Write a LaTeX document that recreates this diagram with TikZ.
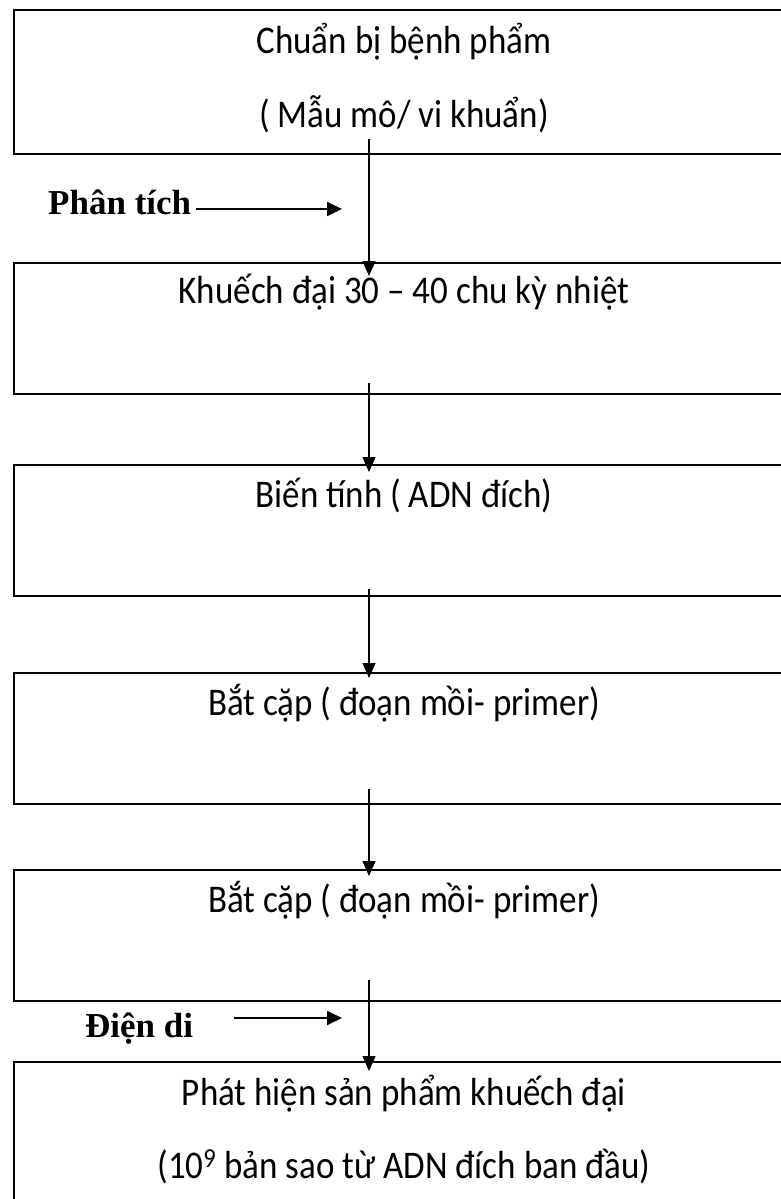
\documentclass[tikz,border=0pt]{standalone}
\usepackage{fontspec}
\usepackage{graphicx}
\setmainfont{Carlito}
\newfontfamily\lblfont{Liberation Serif}
\newcommand{\tallt}[1]{\scalebox{1}[1.12]{#1}}
\usetikzlibrary{arrows.meta,calc}
\tikzset{
  box/.style={draw=black,line width=1.6pt,rectangle,anchor=north west,minimum width=800pt,inner sep=0pt},
  txt/.style={anchor=base,inner sep=0pt,font=\fontsize{35}{42}\selectfont},
  lbl/.style={anchor=base west,inner sep=0pt,font=\fontsize{35}{42}\selectfont\lblfont\bfseries},
  vline/.style={line width=1.2pt,-{Triangle[length=15pt,width=13pt]}},
  hline/.style={line width=1.8pt,-{Triangle[length=15pt,width=14pt]}}
}
\begin{document}
\begin{tikzpicture}[x=1pt,y=-1pt]
\useasboundingbox (0,0) rectangle (781,1199);
\clip (0,0) rectangle (781,1199);
\fill[white] (0,0) rectangle (781,1199);
% boxes
\node[box,minimum height=144pt] (b1) at (13,9) {};
\node[box,minimum height=131pt] (b2) at (13,262) {};
\node[box,minimum height=131pt] (b3) at (13,464) {};
\node[box,minimum height=131pt] (b4) at (13,672) {};
\node[box,minimum height=131pt] (b5) at (13,869) {};
\node[box,minimum height=160pt] (b6) at (13,1061) {};
% texts
\node[txt] (t1a) at (404,53) {\tallt{Chuẩn bị bệnh phẩm}};
\node[txt] (t1b) at (404,127) {\tallt{( Mẫu mô/ vi khuẩn)}};
\node[txt] (t2) at (404,303) {\tallt{Khuếch đại 30 – 40 chu kỳ nhiệt}};
\node[txt] (t3) at (404,507) {\tallt{Biến tính ( ADN đích)}};
\node[txt] (t4) at (404,715) {\tallt{Bắt cặp ( đoạn mồi- primer)}};
\node[txt] (t5) at (404,912) {\tallt{Bắt cặp ( đoạn mồi- primer)}};
\node[txt] (t6a) at (404,1105) {\tallt{Phát hiện sản phẩm khuếch đại}};
\node[txt] (t6b) at (404,1178) {\tallt{(10\textsuperscript{9} bản sao từ ADN đích ban đầu)}};
% side labels
\node[lbl] (l1) at (48,214) {Phân tích};
\node[lbl] (l2) at (85,1037) {Điện di};
% vertical connectors
\coordinate (ax) at (369,0);
\draw[vline] ($(b1.south -| ax)+(0,-16)$) -- ($(b2.north -| ax)+(0,14)$);
\draw[vline] ($(b2.south -| ax)+(0,-12)$) -- ($(b3.north -| ax)+(0,8)$);
\draw[vline] ($(b3.south -| ax)+(0,-8)$) -- ($(b4.north -| ax)+(0,6)$);
\draw[vline] ($(b4.south -| ax)+(0,-16)$) -- ($(b5.north -| ax)+(0,7)$);
\draw[vline] ($(b5.south -| ax)+(0,-22)$) -- ($(b6.north -| ax)+(0,10)$);
% horizontal arrows
\coordinate (h1s) at (196,209);
\coordinate (h1e) at (342,209);
\coordinate (h2s) at (234,1018);
\coordinate (h2e) at (342,1018);
\draw[hline] (h1s) -- (h1e);
\draw[hline] (h2s) -- (h2e);
\end{tikzpicture}
\end{document}
